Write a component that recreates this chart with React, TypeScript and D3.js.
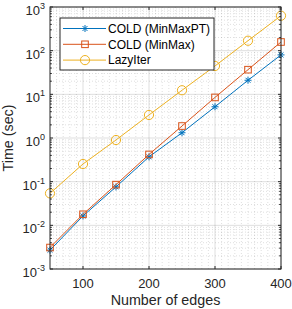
import React, { useRef, useEffect } from 'react';
import * as d3 from 'd3';

// number of edges
const edges = [50, 100, 150, 200, 250, 300, 350, 400];

// run times (sec)
const coldMinMaxPT = [0.0027, 0.0164, 0.076, 0.37, 1.32, 5.2, 21, 80];
const coldMinMax = [0.0031, 0.0179, 0.0855, 0.42, 1.88, 8.5, 36.7, 158];
const lazyIter = [0.054, 0.254, 0.9, 3.37, 12.4, 44.6, 169, 631];

const seriesNames = ['COLD (MinMaxPT)', 'COLD (MinMax)', 'LazyIter'];
const xTicks = [100, 200, 300, 400];
const yExponents = [-3, -2, -1, 0, 1, 2, 3];

const width = 292;
const height = 309;
const margin = { left: 50, right: 11, top: 7, bottom: 40 };
const FONT = '"Liberation Sans", Arial, Helvetica, sans-serif';
const AXIS = '#262626';

const App: React.FC = () => {
  const svgRef = useRef<SVGSVGElement>(null);

  useEffect(() => {
    if (!svgRef.current) return;
    d3.select(svgRef.current).selectAll('*').remove();
    const svg = d3.select(svgRef.current);

    const x0 = margin.left;
    const x1 = width - margin.right;
    const y0 = height - margin.bottom;
    const y1 = margin.top;

    const x = d3.scaleLinear().domain([50, 400]).range([x0, x1]);
    const y = d3.scaleLog().domain([1e-3, 1e3]).range([y0, y1]);

    svg.append('rect').attr('width', width).attr('height', height).attr('fill', '#fff');

    const grid = svg.append('g');

    // minor grid (dotted)
    const minorX = d3.range(60, 400, 10).filter(v => v % 100 !== 0);
    minorX.forEach(v => {
      grid.append('line')
        .attr('x1', x(v)).attr('x2', x(v)).attr('y1', y0).attr('y2', y1)
        .attr('stroke', AXIS).attr('stroke-opacity', 0.25)
        .attr('stroke-width', 0.6).attr('stroke-dasharray', '1,2');
    });
    const minorY: number[] = [];
    yExponents.slice(0, -1).forEach(e => {
      for (let k = 2; k <= 9; k++) minorY.push(k * Math.pow(10, e));
    });
    minorY.forEach(v => {
      grid.append('line')
        .attr('x1', x0).attr('x2', x1).attr('y1', y(v)).attr('y2', y(v))
        .attr('stroke', AXIS).attr('stroke-opacity', 0.25)
        .attr('stroke-width', 0.6).attr('stroke-dasharray', '1,2');
    });

    // major grid
    xTicks.forEach(v => {
      grid.append('line')
        .attr('x1', x(v)).attr('x2', x(v)).attr('y1', y0).attr('y2', y1)
        .attr('stroke', AXIS).attr('stroke-opacity', 0.15).attr('stroke-width', 1);
    });
    yExponents.forEach(e => {
      const v = Math.pow(10, e);
      grid.append('line')
        .attr('x1', x0).attr('x2', x1).attr('y1', y(v)).attr('y2', y(v))
        .attr('stroke', AXIS).attr('stroke-opacity', 0.15).attr('stroke-width', 1);
    });

    // series
    const colors = ['#0072BD', '#D95319', '#EDB120'];
    const allSeries = [coldMinMaxPT, coldMinMax, lazyIter];
    const line = d3.line<number>()
      .x((_, i) => x(edges[i]))
      .y(d => y(d));

    const drawMarker = (g: d3.Selection<SVGGElement, unknown, null, undefined>, kind: number, cx: number, cy: number, color: string) => {
      if (kind === 0) {
        const r = 3.5;
        [0, 45, 90, 135].forEach(a => {
          const rad = (a * Math.PI) / 180;
          g.append('line')
            .attr('x1', cx - r * Math.cos(rad)).attr('y1', cy - r * Math.sin(rad))
            .attr('x2', cx + r * Math.cos(rad)).attr('y2', cy + r * Math.sin(rad))
            .attr('stroke', color).attr('stroke-width', 1);
        });
      } else if (kind === 1) {
        g.append('rect')
          .attr('x', cx - 3.3).attr('y', cy - 3.3).attr('width', 6.6).attr('height', 6.6)
          .attr('fill', 'none').attr('stroke', color).attr('stroke-width', 1);
      } else {
        g.append('circle')
          .attr('cx', cx).attr('cy', cy).attr('r', 4.6)
          .attr('fill', 'none').attr('stroke', color).attr('stroke-width', 1);
      }
    };

    const plot = svg.append('g');
    allSeries.forEach((s, k) => {
      plot.append('path')
        .attr('d', line(s) as string)
        .attr('fill', 'none').attr('stroke', colors[k]).attr('stroke-width', 1);
      s.forEach((v, i) => drawMarker(plot, k, x(edges[i]), y(v), colors[k]));
    });

    // axes box and ticks
    const ax = svg.append('g');
    xTicks.forEach(v => {
      ax.append('line').attr('x1', x(v)).attr('x2', x(v)).attr('y1', y0).attr('y2', y0 - 3)
        .attr('stroke', AXIS).attr('stroke-width', 1);
      ax.append('line').attr('x1', x(v)).attr('x2', x(v)).attr('y1', y1).attr('y2', y1 + 3)
        .attr('stroke', AXIS).attr('stroke-width', 1);
      ax.append('text')
        .attr('x', x(v)).attr('y', y0 + 19)
        .attr('text-anchor', 'middle')
        .attr('font-family', FONT).attr('font-size', 13).attr('fill', AXIS)
        .text(v);
    });
    yExponents.forEach(e => {
      const v = Math.pow(10, e);
      ax.append('line').attr('x1', x0).attr('x2', x0 + 3).attr('y1', y(v)).attr('y2', y(v))
        .attr('stroke', AXIS).attr('stroke-width', 1);
      ax.append('line').attr('x1', x1).attr('x2', x1 - 3).attr('y1', y(v)).attr('y2', y(v))
        .attr('stroke', AXIS).attr('stroke-width', 1);
      const t = ax.append('text')
        .attr('x', x0 - 5).attr('y', y(v) + 8)
        .attr('text-anchor', 'end')
        .attr('font-family', FONT).attr('font-size', 13).attr('fill', AXIS);
      t.append('tspan').text('10');
      t.append('tspan').attr('font-size', 9).attr('dy', -6).text(e);
    });
    minorY.forEach(v => {
      ax.append('line').attr('x1', x0).attr('x2', x0 + 1.8).attr('y1', y(v)).attr('y2', y(v))
        .attr('stroke', AXIS).attr('stroke-width', 1);
      ax.append('line').attr('x1', x1).attr('x2', x1 - 1.8).attr('y1', y(v)).attr('y2', y(v))
        .attr('stroke', AXIS).attr('stroke-width', 1);
    });
    ax.append('rect')
      .attr('x', x0).attr('y', y1).attr('width', x1 - x0).attr('height', y0 - y1)
      .attr('fill', 'none').attr('stroke', AXIS).attr('stroke-width', 1);

    // axis labels
    svg.append('text')
      .attr('x', (x0 + x1) / 2).attr('y', y0 + 36)
      .attr('text-anchor', 'middle')
      .attr('font-family', FONT).attr('font-size', 14.3).attr('fill', AXIS)
      .text('Number of edges');
    svg.append('text')
      .attr('transform', `translate(13, ${(y0 + y1) / 2}) rotate(-90)`)
      .attr('text-anchor', 'middle')
      .attr('font-family', FONT).attr('font-size', 14.3).attr('fill', AXIS)
      .text('Time (sec)');

    // legend
    const lg = svg.append('g');
    lg.append('rect')
      .attr('x', 60).attr('y', 18).attr('width', 154).attr('height', 52)
      .attr('fill', '#fff').attr('stroke', AXIS).attr('stroke-width', 1);
    seriesNames.forEach((name, k) => {
      const ly = 28.5 + k * 15.8;
      lg.append('line').attr('x1', 63).attr('x2', 106).attr('y1', ly).attr('y2', ly)
        .attr('stroke', colors[k]).attr('stroke-width', 1);
      drawMarker(lg, k, 85, ly, colors[k]);
      lg.append('text')
        .attr('x', 108).attr('y', ly + 4.3)
        .attr('font-family', FONT).attr('font-size', 12).attr('fill', '#000')
        .text(name);
    });
  }, []);

  return (
    <svg
      ref={svgRef}
      width={width}
      height={height}
      style={{ position: 'absolute', left: 0, top: 0 }}
    />
  );
};

export default App;
